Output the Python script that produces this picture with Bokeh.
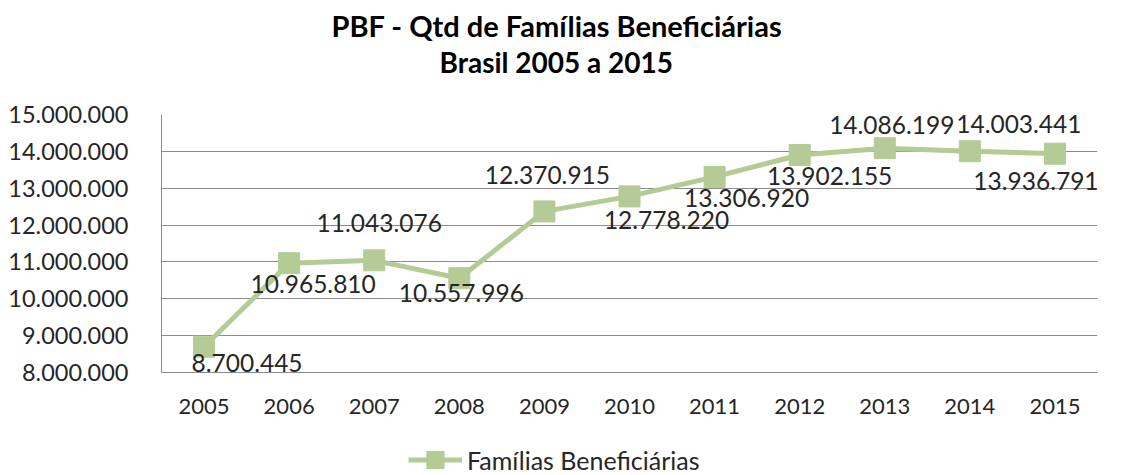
from bokeh.plotting import figure
from bokeh.layouts import column
from bokeh.models import (ColumnDataSource, Title, Legend, LegendItem, FixedTicker,
                          CustomJSTickFormatter, FactorRange, Range1d)
from bokeh.core.properties import value
from bokeh.embed import file_html
from bokeh.resources import INLINE

years = ["2005", "2006", "2007", "2008", "2009", "2010", "2011", "2012", "2013", "2014", "2015"]
familias = [8700445, 10965810, 11043076, 10557996, 12370915, 12778220, 13306920, 13902155, 14086199, 14003441, 13936791]
labels = ["8.700.445", "10.965.810", "11.043.076", "10.557.996", "12.370.915", "12.778.220",
          "13.306.920", "13.902.155", "14.086.199", "14.003.441", "13.936.791"]
y_ticks = [8000000, 9000000, 10000000, 11000000, 12000000, 13000000, 14000000, 15000000]

# label placement (screen pixel offsets from each point)
lab_dx = [43, 24, 5, 2, 3, 37, 32, 30, 7, 49, -19]
lab_dy = [16, 21, -37, 15, -36, 24, 21, 21, -23, -27, 27]

FONT = "Lato"
GREEN = "#b4cb96"
TXT = "#262626"

src = ColumnDataSource(dict(x=years, y=familias, label=labels, dx=lab_dx, dy=lab_dy))

p = figure(width=1121, height=440, x_range=years, y_range=(8000000, 15000000),
           output_backend="svg", toolbar_location=None,
           min_border_left=161, min_border_right=24, min_border_top=114, min_border_bottom=68)
p.x_range.range_padding = 0
p.outline_line_color = None
p.background_fill_color = "white"
p.border_fill_color = "white"

spacer = Title(text=" ", align="center", text_font=FONT, text_font_size="28px", standoff=0)
t2 = Title(text="Brasil 2005 a 2015", align="left", text_font=FONT, text_font_size="28px",
           text_font_style="bold", text_color="black", standoff=0, offset=278)
t1 = Title(text="PBF - Qtd de Famílias  Beneficiárias", align="left", text_font=FONT,
           text_font_size="29px", text_font_style="bold", text_color="black", standoff=0, offset=170)
p.add_layout(spacer, "above")
p.add_layout(t2, "above")
p.add_layout(t1, "above")

p.xgrid.grid_line_color = None
p.ygrid.grid_line_color = "#8c8c8c"
p.ygrid.grid_line_width = 1

p.yaxis.ticker = FixedTicker(ticks=y_ticks)
p.yaxis.formatter = CustomJSTickFormatter(code="return Math.round(tick).toString().replace(/\\B(?=(\\d{3})+(?!\\d))/g, '.');")
for ax in (p.xaxis[0], p.yaxis[0]):
    ax.axis_line_color = "#8c8c8c"
    ax.major_tick_line_color = None
    ax.minor_tick_line_color = None
    ax.major_tick_out = 0
    ax.major_tick_in = 0
    ax.minor_tick_out = 0
    ax.minor_tick_in = 0
    ax.major_label_text_font = FONT
    ax.major_label_text_color = TXT
p.yaxis.major_label_text_font_size = "23.5px"
p.xaxis.major_label_text_font_size = "22px"
p.yaxis.major_label_standoff = 33
p.xaxis.major_label_standoff = 26

p.line("x", "y", source=src, line_color=GREEN, line_width=5)
p.scatter("x", "y", source=src, marker="square", size=21, fill_color=GREEN, line_color=GREEN)
p.text("x", "y", text="label", source=src, x_offset="dx", y_offset="dy",
       text_align="center", text_baseline="middle", text_font=value(FONT),
       text_font_size="24.5px", text_color=TXT)

# legend strip below the chart (its own glyph samples, data kept out of view)
leg = figure(width=1121, height=35, x_range=FactorRange(factors=years), y_range=Range1d(0, 1),
             output_backend="svg", toolbar_location=None, x_axis_type=None, y_axis_type=None,
             min_border=0, min_border_left=0, min_border_right=0, min_border_top=0, min_border_bottom=0)
leg.outline_line_color = None
leg.grid.visible = False
lr = leg.line("x", "y", source=src, line_color=GREEN, line_width=5)
ls = leg.scatter("x", "y", source=src, marker="square", size=21, fill_color=GREEN, line_color=GREEN)
legend = Legend(items=[LegendItem(label="Famílias Beneficiárias", renderers=[lr, ls])],
                location=(247, -6), orientation="horizontal", border_line_color=None,
                background_fill_alpha=0, label_text_font=FONT, label_text_font_size="25px",
                label_text_color=TXT, glyph_width=54, glyph_height=43, label_standoff=5,
                padding=0, margin=0)
leg.add_layout(legend, "center")

layout = column(p, leg, spacing=0)
open("out.html", "w").write(file_html(layout, INLINE))
